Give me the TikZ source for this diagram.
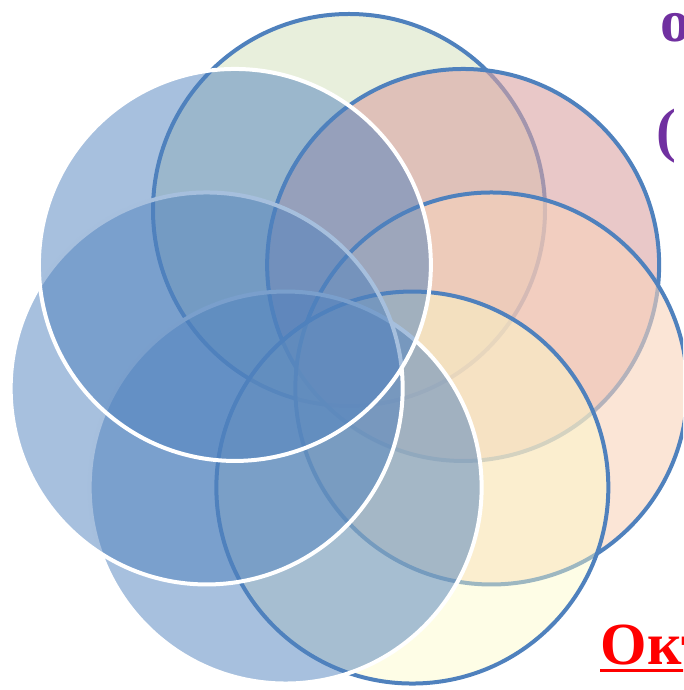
\documentclass[tikz,border=0pt]{standalone}
\usepackage{fontspec}
\setmainfont{Liberation Serif}
\definecolor{ringblue}{HTML}{4F81BD}
\definecolor{petalgreen}{RGB}{217,228,197}
\definecolor{petalpink}{RGB}{218,163,163}
\definecolor{petalpeach}{RGB}{248,211,187}
\definecolor{petalyellow}{RGB}{253,250,200}
\definecolor{textpurple}{HTML}{7030A0}
\tikzset{
  petal/.style={line width=0.04cm, draw=ringblue, fill opacity=0.6},
  bluepetal/.style={line width=0.04cm, draw=white, fill=ringblue, fill opacity=0.5},
  slidetext/.style={font=\fontsize{17}{20}\selectfont\bfseries, inner sep=0pt}
}
\begin{document}
\begin{tikzpicture}
  \clip (0,0) rectangle (6.83,6.90);
  \coordinate (hub) at (3.49,3.34);
  % seven overlapping circles round the hub
  \foreach \c [count=\i from 0] in {petalgreen,petalpink,petalpeach}
    \draw [petal, fill=\c, shift={(hub)}] ({90-51.43*\i}:1.46) circle (1.96);
  \draw [petal, fill=petalyellow, fill opacity=0.45, shift={(hub)}] ({90-51.43*3}:1.46) circle (1.96);
  \foreach \i in {4,5,6}
    \draw [bluepetal, shift={(hub)}] ({90-51.43*\i}:1.46) circle (1.96);
  \node [slidetext, text=textpurple, anchor=base west] (letter) at (6.60,6.48) {о};
  \node [slidetext, text=textpurple, anchor=base west] (paren) at (6.56,5.39) {(};
  \node [slidetext, text=red, anchor=base west] (month) at (6.00,0.26) {Окт};
  \draw [red, line width=0.85pt] ([yshift=-1.8pt]month.base west) -- ([yshift=-1.8pt]month.base east);
\end{tikzpicture}
\end{document}
